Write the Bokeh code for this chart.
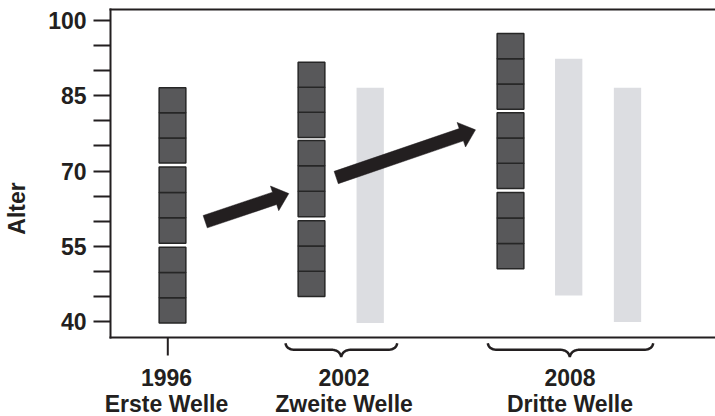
from bokeh.plotting import figure
from bokeh.models import Range1d, LinearAxis, FixedTicker, ColumnDataSource
from bokeh.core.properties import value
from bokeh.embed import file_html
from bokeh.resources import INLINE

# ---------------- data ----------------
waves = ["1996", "2002", "2008"]
wave_names = ["Erste Welle", "Zweite Welle", "Dritte Welle"]
y_title = "Alter"
y_ticks = [40, 55, 70, 85, 100]
y_minor = [45, 50, 60, 65, 75, 80, 90, 95]

# panel members (dark bars): three age groups per wave, lower / upper age
panel_lo = {"1996": [39.7, 55.6, 71.6], "2002": [45.0, 60.9, 76.7], "2008": [50.5, 66.5, 82.3]}
panel_hi = {"1996": [54.8, 70.8, 86.6], "2002": [60.1, 76.1, 91.7], "2008": [65.7, 81.6, 97.4]}
cells_per_group = 3

# refresher samples (light bars)
fresh_wave = ["2002", "2008", "2008"]
fresh_lo = [39.7, 45.2, 39.9]
fresh_hi = [86.6, 92.4, 86.6]

# ageing arrows: age at start and at end
arrow_age_start = [59.9, 68.7]
arrow_age_end = [65.5, 78.2]

# ---------------- layout / style ----------------
INK = "#231f20"
DARK = "#58585a"
DARK_EDGE = "#262626"
LIGHT = "#dcdde1"
FONT = "Liberation Sans"
FS = "23px"

W, H = 715, 416
LEFT = 100                     # frame left border (px); axis line drawn 10px further right
AX = 10                        # px between frame edge and drawn axis line
S = 301 / 60                   # px per year
BASE_PX = 321                  # px (from figure top) of age 40

def age_at(px_from_top):
    return 40 + (BASE_PX - px_from_top) / S

y_lo, y_hi = age_at(H), age_at(0)
floor_age = age_at(337)        # x-axis line
top_age = age_at(9)            # top frame line
x_end = W - LEFT - AX

panel_x = {"1996": 62, "2002": 201, "2008": 400}
fresh_x = [259.7, 458.2, 517.0]
label_x = {"1996": 56, "2002": 233.5, "2008": 459.5}
tick_x = {"1996": 57.3}
brace = {"2002": (175, 286.7, 230.7), "2008": (377.3, 542.7, 459.3)}
arrow_x = [(94.7, 178.3), (225.7, 365.0)]
BAR_W = 26.7
FRESH_W = 27.3

p = figure(width=W, height=H, output_backend="svg", toolbar_location=None,
           x_range=Range1d(-AX, x_end), y_range=Range1d(y_lo, y_hi),
           x_axis_type=None, y_axis_type=None,
           min_border_left=LEFT, min_border_right=0, min_border_top=0, min_border_bottom=0)
p.outline_line_color = None
p.background_fill_color = "white"
p.border_fill_color = "white"

# light bars
p.quad(left=[fresh_x[i] - FRESH_W / 2 for i in range(len(fresh_wave))],
       right=[fresh_x[i] + FRESH_W / 2 for i in range(len(fresh_wave))],
       bottom=fresh_lo, top=fresh_hi, fill_color=LIGHT, line_color=None)

# dark bars made of cells
cl, cr, cb, ct = [], [], [], []
for w in waves:
    for lo, hi in zip(panel_lo[w], panel_hi[w]):
        step = (hi - lo) / cells_per_group
        for k in range(cells_per_group):
            cl.append(panel_x[w] - BAR_W / 2)
            cr.append(panel_x[w] + BAR_W / 2)
            cb.append(lo + k * step)
            ct.append(lo + (k + 1) * step)
p.quad(left=cl, right=cr, bottom=cb, top=ct, fill_color=DARK,
       line_color=DARK_EDGE, line_width=1.5)

# arrows (built in pixel space, converted back to data units)
def arrow_poly(x0, a0, x1, a1, shaft=6.5, head=13.0, hlen=15.0):
    X0, Y0, X1, Y1 = x0, a0 * S, x1, a1 * S
    dx, dy = X1 - X0, Y1 - Y0
    L = (dx * dx + dy * dy) ** 0.5
    ux, uy = dx / L, dy / L
    nx, ny = -uy, ux
    bx, by = X1 - ux * hlen, Y1 - uy * hlen
    pts = [(X0 + nx * shaft, Y0 + ny * shaft), (bx + nx * shaft, by + ny * shaft),
           (bx + nx * head, by + ny * head), (X1, Y1),
           (bx - nx * head, by - ny * head), (bx - nx * shaft, by - ny * shaft),
           (X0 - nx * shaft, Y0 - ny * shaft)]
    return [q[0] for q in pts], [q[1] / S for q in pts]

axs, ays = [], []
for (x0, x1), a0, a1 in zip(arrow_x, arrow_age_start, arrow_age_end):
    xs, ys = arrow_poly(x0, a0, x1, a1)
    axs.append(xs)
    ays.append(ys)
p.patches(axs, ays, fill_color=INK, line_color=INK, line_width=0.5)

# frame lines: left axis line, top line, bottom (x axis) line
p.multi_line([[0, 0], [0, x_end + 5], [0, x_end + 5]],
             [[floor_age, top_age], [top_age, top_age], [floor_age, floor_age]],
             line_color=INK, line_width=2, line_cap="square")

# y axis (ticks reach from the drawn axis line outward)
yaxis = LinearAxis(ticker=FixedTicker(ticks=y_ticks, minor_ticks=y_minor),
                   bounds=(floor_age, top_age), axis_label=y_title,
                   axis_line_color=None,
                   major_tick_line_color=INK, major_tick_line_width=2,
                   minor_tick_line_color=INK, minor_tick_line_width=2,
                   major_tick_in=AX, major_tick_out=17 - AX,
                   minor_tick_in=AX, minor_tick_out=17 - AX,
                   major_label_standoff=7,
                   major_label_text_font=FONT, major_label_text_font_size=FS,
                   major_label_text_font_style="bold", major_label_text_color=INK,
                   axis_label_text_font=FONT, axis_label_text_font_size=FS,
                   axis_label_text_font_style="bold", axis_label_text_color=INK,
                   axis_label_standoff=15)
p.add_layout(yaxis, "left")

# x tick for first wave
for w, tx in tick_x.items():
    p.segment(x0=[tx], x1=[tx], y0=[floor_age], y1=[floor_age - 18 / S],
              line_color=INK, line_width=2)

# braces for later waves
def brace_path(x0, x1, xm, top_off=5.7, mid_off=12.3, tip_off=19.5, r=10.0):
    yt, ym, yp = floor_age - top_off / S, floor_age - mid_off / S, floor_age - tip_off / S
    def quad(p0, c, p1, n=10):
        out = []
        for i in range(n + 1):
            t = i / n
            out.append(((1 - t) ** 2 * p0[0] + 2 * (1 - t) * t * c[0] + t * t * p1[0],
                        (1 - t) ** 2 * p0[1] + 2 * (1 - t) * t * c[1] + t * t * p1[1]))
        return out
    pts = []
    pts += quad((x0, yt), (x0 + 1, ym), (x0 + r, ym))
    pts += quad((xm - r, ym), (xm - 1.5, ym), (xm, yp))
    pts += quad((xm, yp), (xm + 1.5, ym), (xm + r, ym))
    pts += quad((x1 - r, ym), (x1 - 1, ym), (x1, yt))
    return [q[0] for q in pts], [q[1] for q in pts]

bxs, bys = [], []
for w, (x0, x1, xm) in brace.items():
    xs, ys = brace_path(x0, x1, xm)
    bxs.append(xs)
    bys.append(ys)
p.multi_line(bxs, bys, line_color=INK, line_width=2.5)

# wave labels
lab = ColumnDataSource(dict(x=[label_x[w] for w in waves], year=waves, name=wave_names,
                            y1=[age_at(377)] * 3, y2=[age_at(403)] * 3))
for col, ycol in (("year", "y1"), ("name", "y2")):
    p.text(x="x", y=ycol, text=col, source=lab, text_align="center",
           text_baseline="middle", text_font=value(FONT), text_font_size=FS,
           text_font_style="bold", text_color=INK)

open("out.html", "w").write(file_html(p, INLINE))
